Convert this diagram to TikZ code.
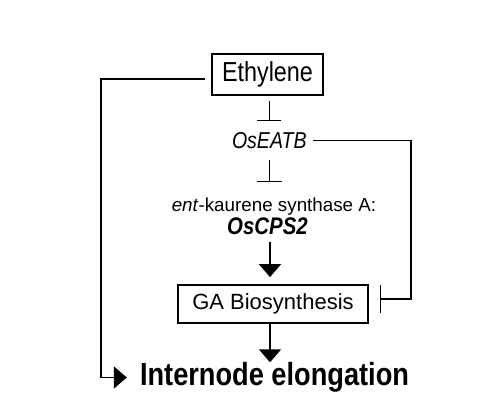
\documentclass[tikz,border=0pt]{standalone}
\usepackage{fontspec}
\setmainfont{Liberation Sans}
\newfontfamily\narrowfont{Liberation Sans}[FakeStretch=0.85]
\usetikzlibrary{arrows.meta}
\tikzstyle{bx} = [rectangle, draw, line width=1.8pt, inner sep=0pt]
\tikzstyle{txt} = [inner sep=0pt, anchor=base]
\tikzstyle{act} = [line width=1.8pt, -{Triangle[width=22pt,length=13pt]}]
\tikzstyle{inh} = [line width=1.2pt, -{Bar[width=24pt]}]

\begin{document}
\begin{tikzpicture}[x=1pt,y=-1pt]
  \useasboundingbox (0,0) rectangle (491,403);
  \node[bx, minimum width=111pt, minimum height=41pt,
        font=\narrowfont\fontsize{27.5}{30}\selectfont] (eth) at (267.5,74.5) {Ethylene};
  \node[txt, font=\narrowfont\itshape\fontsize{23}{26}\selectfont] (eatb) at (269.3,148.3) {OsEATB};
  \node[txt, font=\fontsize{18.8}{22}\selectfont] (ent) at (274,211.7) {\textit{ent}-kaurene synthase A:};
  \node[txt, font=\narrowfont\bfseries\itshape\fontsize{24}{27}\selectfont] (cps) at (267.5,235) {OsCPS2};
  \node[bx, minimum width=190pt, minimum height=38pt,
        font=\fontsize{22}{25}\selectfont] (ga) at (273,304) {GA Biosynthesis};
  \node[txt, font=\narrowfont\bfseries\fontsize{32}{36}\selectfont] (int) at (274.5,385.7) {Internode elongation};

  \coordinate (lc) at (101,0);
  \coordinate (rc) at (411,0);
  \coordinate (eout) at ([shift={(-6,4.5)}]eth.west);
  \coordinate (gin) at ([yshift=5pt]ga.east);

  % ethylene acts directly on elongation
  \draw[act, shorten >=13pt] (eout) -| (lc |- int.west) -- (int.west);
  % repression chain
  \draw[inh, shorten <=5pt, shorten >=10.7pt] (eatb.north |- eth.south) -- (eatb.north);
  \draw[inh, -{Bar[width=25pt]}, shorten <=11.7pt, shorten >=16pt] (eatb.south) -- (eatb.south |- ent.north);
  \draw[inh, -{Bar[width=28pt]}, shorten <=6.3pt, shorten >=11pt] (eatb.east) -| (rc |- gin) -- (gin);
  % promotion
  \draw[act, shorten <=7pt, shorten >=7pt] ([xshift=2.5pt]cps.south) -- ([xshift=2.5pt]cps.south |- ga.north);
  \draw[act] ([xshift=-3pt]ga.south) -- ([xshift=-3pt]ga.south |- int.north);
\end{tikzpicture}
\end{document}
